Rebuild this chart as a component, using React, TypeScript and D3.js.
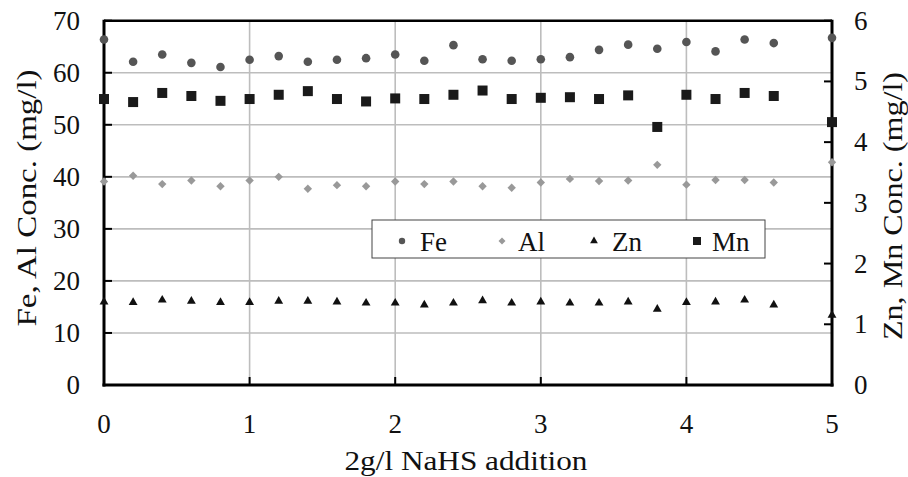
import React from "react";
import * as d3 from "d3";

const xValues = [0, 0.2, 0.4, 0.6, 0.8, 1.0, 1.2, 1.4, 1.6, 1.8, 2.0, 2.2, 2.4, 2.6, 2.8, 3.0, 3.2, 3.4, 3.6, 3.8, 4.0, 4.2, 4.4, 4.6, 5.0];
const feValues = [66.4, 62.1, 63.5, 61.9, 61.1, 62.5, 63.2, 62.1, 62.5, 62.8, 63.5, 62.3, 65.3, 62.6, 62.3, 62.6, 63.0, 64.4, 65.4, 64.6, 65.9, 64.1, 66.4, 65.7, 66.7];
const alValues = [39.1, 40.2, 38.6, 39.3, 38.2, 39.3, 40.0, 37.7, 38.4, 38.2, 39.1, 38.6, 39.1, 38.2, 37.9, 38.9, 39.6, 39.2, 39.3, 42.3, 38.5, 39.4, 39.4, 38.9, 42.8];
const znValues = [1.37, 1.36, 1.40, 1.38, 1.36, 1.36, 1.38, 1.38, 1.37, 1.35, 1.35, 1.32, 1.35, 1.39, 1.35, 1.37, 1.35, 1.35, 1.37, 1.25, 1.36, 1.37, 1.40, 1.32, 1.15];
const mnValues = [4.71, 4.66, 4.81, 4.76, 4.68, 4.71, 4.78, 4.84, 4.71, 4.67, 4.72, 4.71, 4.78, 4.85, 4.71, 4.73, 4.74, 4.71, 4.77, 4.25, 4.78, 4.71, 4.81, 4.76, 4.33];

const xTicks = [0, 1, 2, 3, 4, 5];
const leftTicks = [0, 10, 20, 30, 40, 50, 60, 70];
const rightTicks = [0, 1, 2, 3, 4, 5, 6];
const legendLabels = ["Fe", "Al", "Zn", "Mn"];

const W = 908, H = 477;
const L = 104, R = 832, T = 20.7, B = 385;
const FONT = "Liberation Serif";

export default function App() {
  const x = d3.scaleLinear().domain([0, 5]).range([L, R]);
  const yL = d3.scaleLinear().domain([0, 70]).range([B, T]);
  const yR = d3.scaleLinear().domain([0, 6]).range([B, T]);
  const tri = d3.symbol().type(d3.symbolTriangle).size(34)() as string;
  const triLeg = d3.symbol().type(d3.symbolTriangle).size(26)() as string;

  const gridCol = "#bdbdbd";
  const ts = { fontFamily: FONT };

  const legendX = [402, 502, 594, 697];
  const legendTextX = [420, 518, 612, 712];

  const marker = (k: number, cx: number, cy: number, leg: boolean) => {
    if (k === 0) return <circle cx={cx} cy={cy} r={leg ? 3.2 : 4.3} fill="#555" />;
    if (k === 1) {
      const s = leg ? 3.5 : 4.2;
      return <path d={`M${cx},${cy - s}L${cx + s},${cy}L${cx},${cy + s}L${cx - s},${cy}Z`} fill="#999" />;
    }
    if (k === 2) return <path d={leg ? triLeg : tri} transform={`translate(${cx},${cy})`} fill="#111" />;
    const h = leg ? 4 : 5;
    return <rect x={cx - h} y={cy - h} width={2 * h} height={2 * h} fill="#1a1a1a" />;
  };

  return (
    <svg width={W} height={H} style={{ position: "absolute", left: 0, top: 0, background: "#fff" }}>
      <rect width={W} height={H} fill="#fff" />
      {/* grid */}
      {leftTicks.filter(t => t > 0 && t < 70).map(t => (
        <line key={"gh" + t} x1={L} x2={R} y1={yL(t)} y2={yL(t)} stroke={gridCol} strokeWidth={1.6} />
      ))}
      {xTicks.filter(t => t > 0 && t < 5).map(t => (
        <line key={"gv" + t} x1={x(t)} x2={x(t)} y1={T} y2={B} stroke={gridCol} strokeWidth={1.6} />
      ))}
      {/* ticks */}
      {leftTicks.map(t => (
        <line key={"lt" + t} x1={L} x2={L + 8} y1={yL(t)} y2={yL(t)} stroke="#000" strokeWidth={2} />
      ))}
      {rightTicks.map(t => (
        <line key={"rt" + t} x1={R - 8} x2={R} y1={yR(t)} y2={yR(t)} stroke="#000" strokeWidth={2} />
      ))}
      {xTicks.map(t => (
        <line key={"xt" + t} x1={x(t)} x2={x(t)} y1={B} y2={B - 8} stroke="#000" strokeWidth={2} />
      ))}
      {/* frame */}
      <line x1={L} x2={R} y1={T} y2={T} stroke="#000" strokeWidth={2.5} />
      <line x1={L} x2={L} y1={T - 1} y2={B + 1.5} stroke="#000" strokeWidth={3} />
      <line x1={R} x2={R} y1={T - 1} y2={B + 1.5} stroke="#000" strokeWidth={3} />
      <line x1={L - 1.5} x2={R + 1.5} y1={B} y2={B} stroke="#000" strokeWidth={3} />

      {/* legend */}
      <rect x={372} y={220} width={393} height={38} fill="#fff" stroke="#444" strokeWidth={1} />
      {legendLabels.map((lab, k) => (
        <g key={"lg" + k}>
          {marker(k, legendX[k], 241, true)}
          <text x={legendTextX[k]} y={251} fontSize={27} fill="#111" style={ts}>{lab}</text>
        </g>
      ))}

      {/* data */}
      {xValues.map((v, i) => <g key={"al" + i}>{marker(1, x(v), yL(alValues[i]), false)}</g>)}
      {xValues.map((v, i) => <g key={"fe" + i}>{marker(0, x(v), yL(feValues[i]), false)}</g>)}
      {xValues.map((v, i) => <g key={"zn" + i}>{marker(2, x(v), yR(znValues[i]), false)}</g>)}
      {xValues.map((v, i) => <g key={"mn" + i}>{marker(3, x(v), yR(mnValues[i]), false)}</g>)}

      {/* tick labels */}
      {leftTicks.map(t => (
        <text key={"ll" + t} x={80} y={yL(t) + 9} fontSize={27} textAnchor="end" fill="#111" style={ts}>{t}</text>
      ))}
      {rightTicks.map(t => (
        <text key={"rl" + t} x={854} y={yR(t) + 9} fontSize={27} textAnchor="start" fill="#111" style={ts}>{t}</text>
      ))}
      {xTicks.map(t => (
        <text key={"xl" + t} x={x(t)} y={433} fontSize={27} textAnchor="middle" fill="#111" style={ts}>{t}</text>
      ))}

      {/* axis titles */}
      <text x={466} y={470} fontSize={27} textAnchor="middle" textLength={243} lengthAdjust="spacingAndGlyphs" fill="#111" style={ts}>2g/l NaHS addition</text>
      <text transform={`translate(36,198) rotate(-90)`} fontSize={27} textAnchor="middle" textLength={257} lengthAdjust="spacingAndGlyphs" fill="#111" style={ts}>Fe, Al Conc. (mg/l)</text>
      <text transform={`translate(902,206) rotate(-90)`} fontSize={27} textAnchor="middle" textLength={268} lengthAdjust="spacingAndGlyphs" fill="#111" style={ts}>Zn, Mn Conc. (mg/l)</text>
    </svg>
  );
}
